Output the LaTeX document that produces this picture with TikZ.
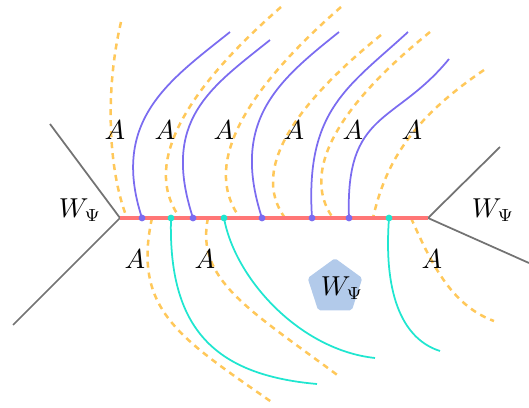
\documentclass[tikz,border=0pt]{standalone}
\usepackage{amsmath,amssymb}
\usepackage{xcolor}
\usepackage{tikz}
\usetikzlibrary{shapes.geometric}

\definecolor{vio}{RGB}{123,108,240}
\definecolor{cya}{RGB}{32,230,208}
\definecolor{ora}{RGB}{255,200,90}
\definecolor{rib}{RGB}{255,118,118}
\definecolor{pent}{RGB}{178,202,234}

\begin{document}
\begin{tikzpicture}[
  x=0.4pt, y=0.4pt,
  font=\fontsize{10.6}{12}\selectfont,
  leg/.style={draw=black!55, line width=0.7pt},
  spine/.style={draw=rib, line width=1.3pt},
  vline/.style={draw=vio, line width=0.7pt},
  cline/.style={draw=cya, line width=0.7pt},
  aline/.style={draw=ora, line width=1pt, dash pattern=on 2.4pt off 2pt},
  lab/.style={inner sep=1pt},
  blob/.style={regular polygon, regular polygon sides=5, fill=pent, inner sep=0pt,
    minimum size=23pt, rounded corners=0.8pt}]
\useasboundingbox (0,0) rectangle (529,408);
% the two vertices and the propagator
\coordinate (lc) at (120,190);
\coordinate (rc) at (428,190);
\coordinate (l1) at (50,284);
\coordinate (l2) at (13,83);
\coordinate (r1) at (500,261);
\coordinate (r2) at (529,145);
% attachment points on the propagator
\coordinate (p1) at (142,190);
\coordinate (p2) at (193,190);
\coordinate (p3) at (262,190);
\coordinate (p4) at (312,190);
\coordinate (p5) at (349,190);
\coordinate (q1) at (171,190);
\coordinate (q2) at (224,190);
\coordinate (q3) at (389,190);
% free ends
\coordinate (t1) at (230,376);
\coordinate (t2) at (270,368);
\coordinate (t3) at (339,376);
\coordinate (t4) at (408,376);
\coordinate (t5) at (449,349);
\coordinate (u1) at (317,24);
\coordinate (u2) at (375,50);
\coordinate (u3) at (440,57);
\coordinate (a1) at (121,386);
\coordinate (a2) at (281,401);
\coordinate (a3) at (341,401);
\coordinate (a4) at (381,373);
\coordinate (a5) at (430,376);
\coordinate (a6) at (484,338);
\coordinate (f1) at (127,190);
\coordinate (f2) at (180,190);
\coordinate (f3) at (240,190);
\coordinate (f4) at (285,190);
\coordinate (f5) at (333,190);
\coordinate (f6) at (373,190);
\coordinate (g1) at (152,190);
\coordinate (g2) at (208,190);
\coordinate (g3) at (411,190);
\coordinate (h1) at (273,5);
\coordinate (h2) at (340,31);
\coordinate (h3) at (494,87);
% gauge lines (dashed)
\draw[aline] (a1) .. controls +(-16,-68) and +(-19,48) .. (f1);
\draw[aline] (a2) .. controls +(-141,-123) and +(-20,28) .. (f2);
\draw[aline] (a3) .. controls +(-141,-123) and +(-20,28) .. (f3);
\draw[aline] (a4) .. controls +(-130,-105) and +(-18,25) .. (f4);
\draw[aline] (a5) .. controls +(-130,-105) and +(-18,25) .. (f5);
\draw[aline] (a6) .. controls +(-74,-50) and +(12,53) .. (f6);
\draw[aline] (g1) .. controls +(-20,-92) and +(-93,65) .. (h1);
\draw[aline] (g2) .. controls +(-13,-62) and +(-90,67) .. (h2);
\draw[aline] (g3) .. controls +(19,-42) and +(-44,16) .. (h3);
% legs above
\draw[vline] (p1) .. controls +(-32,98) and +(-60,-48) .. (t1);
\draw[vline] (p2) .. controls +(-32,98) and +(-60,-48) .. (t2);
\draw[vline] (p3) .. controls +(-32,98) and +(-60,-48) .. (t3);
\draw[vline] (p4) .. controls +(-7,108) and +(-60,-55) .. (t4);
\draw[vline] (p5) .. controls +(-4,108) and +(-54,-66) .. (t5);
% legs below
\draw[cline] (q1) .. controls +(-3,-111) and +(-102,9) .. (u1);
\draw[cline] (q2) .. controls +(11,-61) and +(-75,8) .. (u2);
\draw[cline] (q3) .. controls +(-6,-81) and +(-35,11) .. (u3);
\draw[leg] (l1) -- (lc) -- (l2);
\draw[leg] (r1) -- (rc) -- (r2);
\draw[spine] (lc) -- (rc);
\fill[vio] (p1) circle (3.4);
\fill[vio] (p2) circle (3.4);
\fill[vio] (p3) circle (3.4);
\fill[vio] (p4) circle (3.4);
\fill[vio] (p5) circle (3.4);
\fill[cya] (q1) circle (3.4);
\fill[cya] (q2) circle (3.4);
\fill[cya] (q3) circle (3.4);
% labels
\node[lab] (A1) at (115,278) {$A$};
\node[lab] (A2) at (165,278) {$A$};
\node[lab] (A3) at (224,278) {$A$};
\node[lab] (A4) at (294,278) {$A$};
\node[lab] (A5) at (353,278) {$A$};
\node[lab] (A6) at (412,278) {$A$};
\node[lab] (B1) at (135,149) {$A$};
\node[lab] (B2) at (205,149) {$A$};
\node[lab] (B3) at (432,149) {$A$};
\node[lab] (wl) at (80,198) {$W_\Psi$};
\node[lab] (wr) at (493,198) {$W_\Psi$};
\node[blob] (wc) at (335,121) {};
\node[lab] (wct) at (342,120) {$W_\Psi$};
\end{tikzpicture}
\end{document}
